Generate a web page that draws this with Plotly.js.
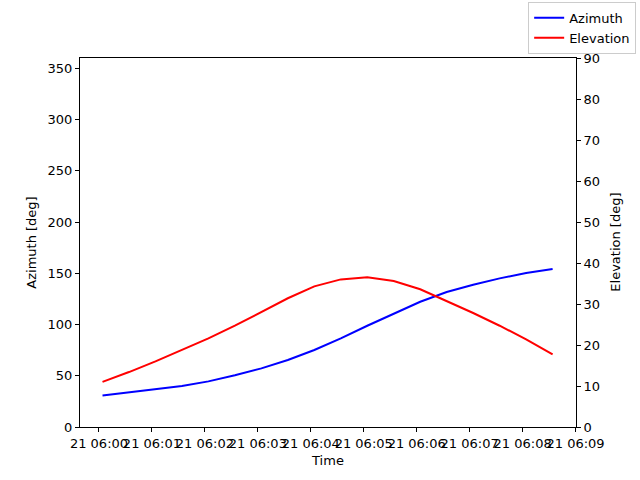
<!DOCTYPE html>
<html>
<head>
<meta charset="utf-8">
<script src="https://cdn.plot.ly/plotly-3.0.1.min.js"></script>
<style>body{margin:0;} #plot{width:640px;height:480px;}</style>
</head>
<body>
<div id="plot"></div>
<script>
// samples every 30 s starting 06:00:04
let times = [
  '2024-06-21 06:00:04','2024-06-21 06:00:34','2024-06-21 06:01:04','2024-06-21 06:01:34',
  '2024-06-21 06:02:04','2024-06-21 06:02:34','2024-06-21 06:03:04','2024-06-21 06:03:34',
  '2024-06-21 06:04:04','2024-06-21 06:04:34','2024-06-21 06:05:04','2024-06-21 06:05:34',
  '2024-06-21 06:06:04','2024-06-21 06:06:34','2024-06-21 06:07:04','2024-06-21 06:07:34',
  '2024-06-21 06:08:04','2024-06-21 06:08:34']

let azimuth = [30.8,33.8,36.4,40.0,44.5,50.4,57.2,65.4,75.1,86.5,98.8,110.8,122.2,131.7,138.8,145.0,150.2,154.1]
let elevation = [11.0,13.4,16.0,18.8,21.6,24.7,28.0,31.4,34.3,36.0,36.5,35.6,33.6,30.8,27.8,24.7,21.4,17.7]

var trace_az = {
  x: times,
  y: azimuth,
  mode: 'lines',
  type: 'scatter',
  name: 'Azimuth',
  line: {color: 'blue', width: 2}
};
var trace_el = {
  x: times,
  y: elevation,
  mode: 'lines',
  type: 'scatter',
  name: 'Elevation',
  yaxis: 'y2',
  line: {color: 'red', width: 2}
};

var axisStyle = {
  showline: true, linecolor: 'black', linewidth: 1,
  ticks: 'outside', ticklen: 4, tickcolor: 'black',
  tickfont: {size: 13},
  showgrid: false, zeroline: false, automargin: true
};

var layout = {
  width: 640, height: 480,
  margin: {l: 80, r: 64, t: 58, b: 53, autoexpand: false},
  font: {family: 'DejaVu Sans', size: 13, color: 'black'},
  paper_bgcolor: 'white', plot_bgcolor: 'white',
  showlegend: true,
  legend: {xref: 'container', yref: 'container',
           x: 0.994, xanchor: 'right', y: 0.996, yanchor: 'top',
           bordercolor: '#cccccc', borderwidth: 1, bgcolor: 'white',
           font: {size: 13}},
  xaxis: Object.assign({}, axisStyle, {
    type: 'date',
    range: ['2024-06-21 05:59:38.5', '2024-06-21 06:09:00.5'],
    tick0: '2024-06-21 06:00:00', dtick: 60000,
    tickformat: '%d %H:%M', tickangle: 0,
    mirror: true,
    title: {text: 'Time', standoff: 6, font: {size: 13}}
  }),
  yaxis: Object.assign({}, axisStyle, {
    range: [0, 360], dtick: 50,
    title: {text: 'Azimuth [deg]', standoff: 8, font: {size: 13}}
  }),
  yaxis2: Object.assign({}, axisStyle, {
    range: [0, 90], dtick: 10,
    overlaying: 'y', side: 'right'
  }),
  // right-hand axis label
  annotations: [{
    text: 'Elevation [deg]', textangle: -90,
    xref: 'paper', yref: 'paper', x: 1.079, y: 0.5,
    xanchor: 'center', yanchor: 'middle', showarrow: false,
    font: {size: 13}
  }]
};

Plotly.newPlot('plot', [trace_az, trace_el], layout, {displayModeBar: false});
</script>
</body>
</html>
